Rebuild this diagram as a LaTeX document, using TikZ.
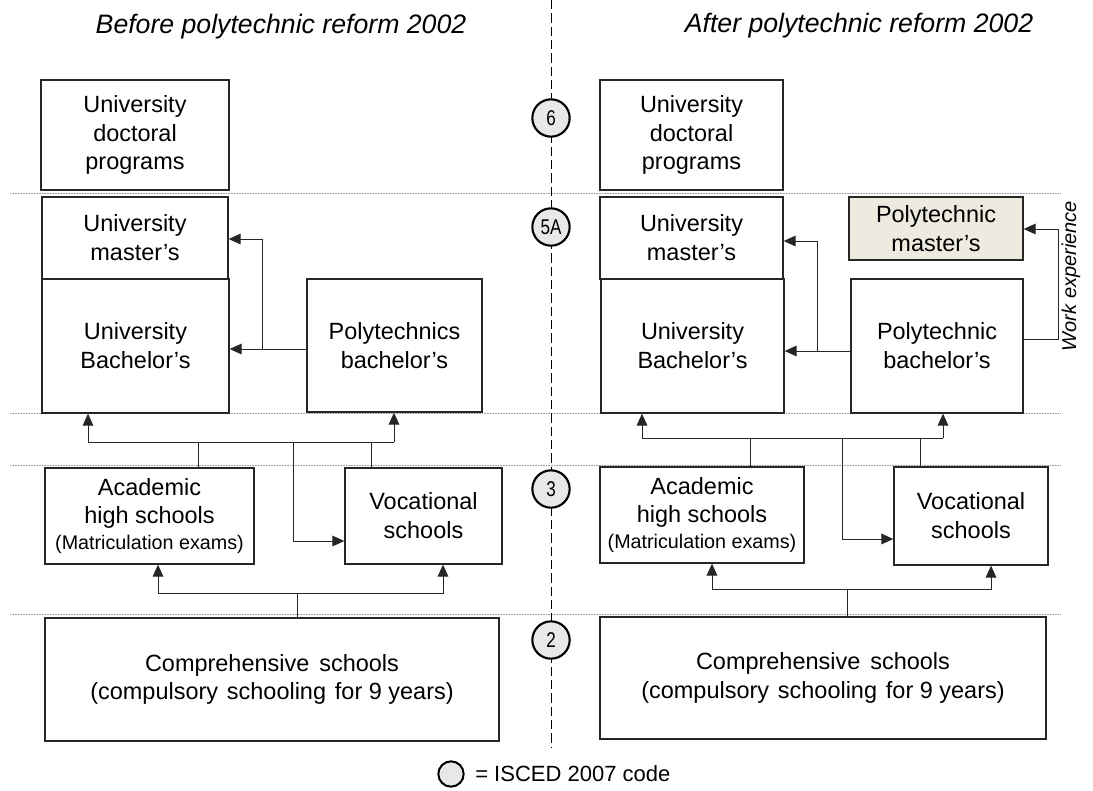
\documentclass[tikz,border=0pt]{standalone}
\usepackage{fontspec}
\setmainfont{Liberation Sans}
\usepackage{graphicx}
\usetikzlibrary{arrows.meta}
\definecolor{boxline}{HTML}{262626}
\definecolor{pmfill}{RGB}{237,234,224}
\definecolor{circfill}{RGB}{232,232,232}
\definecolor{dotgray}{RGB}{150,150,150}
\begin{document}
\begin{tikzpicture}[x=0.75pt,y=-0.75pt,
  box/.style={draw=boxline,fill=white,line width=1pt,align=center,inner sep=0pt,font=\fontsize{17.6}{21.6}\selectfont},
  conn/.style={draw=boxline,line width=0.75pt},
  arr/.style={conn,-{Triangle[length=9pt,width=8pt]}},
  isced/.style={circle,draw=black,line width=1.6pt,fill=circfill,minimum size=28pt,inner sep=0pt,font=\fontsize{16}{16}\selectfont},
  level/.style={dotgray,line width=0.6pt,dash pattern=on 0.6pt off 0.6pt},
  title/.style={font=\fontsize{20}{24}\selectfont\itshape,anchor=base,inner sep=0pt}]
\useasboundingbox (0,0) rectangle (1093,790);

% titles
\node[title] (tl) at (281,33) {Before polytechnic reform 2002};
\node[title] (tr) at (859,32) {After polytechnic reform 2002};

% level lines
\coordinate (d1a) at (10,193); \coordinate (d1b) at (1060,193);
\coordinate (d2a) at (10,413); \coordinate (d2b) at (1060,413);
\coordinate (d3a) at (10,465); \coordinate (d3b) at (1060,465);
\coordinate (d4a) at (10,614); \coordinate (d4b) at (1060,614);
\draw[level] (d1a) -- (d1b);
\draw[level] (d2a) -- (d2b);
\draw[level] (d3a) -- (d3b);
\draw[level] (d4a) -- (d4b);

% central dashed divider
\coordinate (dtop) at (551,0); \coordinate (dbot) at (551,747);
\draw[line width=0.75pt,dash pattern=on 7pt off 3pt] (dtop) -- (dbot);

% ISCED circles
\node[isced] (c6) at (551,118) {\scalebox{0.8}[1]{6}};
\node[isced] (c5) at (551,227) {\scalebox{0.8}[1]{5A}};
\node[isced] (c3) at (551,489) {\scalebox{0.8}[1]{3}};
\node[isced] (c2) at (551,640) {\scalebox{0.8}[1]{2}};

% ---------- left side ----------
\node[box,minimum width=141pt,minimum height=82.5pt] (ldoc) at (135,135) {University\\doctoral\\programs};
\node[box,minimum width=139.5pt,minimum height=61.5pt] (lmas) at (135,238) {University\\master’s};
\node[box,minimum width=140.25pt,minimum height=100.5pt] (lbach) at (135.5,346) {University\\Bachelor’s};
\node[box,minimum width=131.25pt,minimum height=99.75pt] (lpoly) at (394.5,345.5) {Polytechnics\\bachelor’s};
\node[box,minimum width=156.75pt,minimum height=72pt] (lacad) at (149.5,516) {Academic\\high schools\\[-2pt]{\fontsize{14.8}{17}\selectfont (Matriculation exams)}};
\node[box,minimum width=117.75pt,minimum height=72pt] (lvoc) at (423.5,516) {Vocational\\schools};
\node[box,minimum width=340.5pt,minimum height=92.25pt] (lcomp) at (272,679.5) {Comprehensive\hspace{0.15em} schools\\(compulsory\hspace{0.1em} schooling\hspace{0.1em} for 9 years)};

\coordinate (lj1) at (262,349);
\coordinate (lj2) at (262,239);
\draw[arr] (lpoly.west |- lj1) -- (lbach.east |- lj1);
\draw[arr] (lj1) -- (lj2) -- (lmas.east |- lj2);

\coordinate (la1) at (88,442);
\coordinate (la2) at (394,442);
\coordinate (la3) at (198,442);
\coordinate (la4) at (371,442);
\coordinate (la5) at (293,442);
\coordinate (la6) at (293,541);
\draw[arr] (la2) -- (la1) -- (la1 |- lbach.south);
\draw[arr] (la2) -- (la2 |- lpoly.south);
\draw[conn] (lacad.north -| la3) -- (la3);
\draw[conn] (lvoc.north -| la4) -- (la4);
\draw[arr] (la5) -- (la6) -- (la6 -| lvoc.west);

\coordinate (lb1) at (158,593);
\coordinate (lb2) at (443,593);
\coordinate (lb3) at (297,593);
\draw[arr] (lb3) -- (lb1) -- (lb1 |- lacad.south);
\draw[arr] (lb3) -- (lb2) -- (lb2 |- lvoc.south);
\draw[conn] (lcomp.north -| lb3) -- (lb3);

% ---------- right side ----------
\node[box,minimum width=137.25pt,minimum height=82.5pt] (rdoc) at (691.5,135) {University\\doctoral\\programs};
\node[box,minimum width=137.25pt,minimum height=61.5pt] (rmas) at (691.5,238) {University\\master’s};
\node[box,minimum width=137.25pt,minimum height=100.5pt] (rbach) at (692.5,346) {University\\Bachelor’s};
\node[box,fill=pmfill,minimum width=130.5pt,minimum height=47.25pt] (rpmas) at (936,228.5) {Polytechnic\\master’s};
\node[box,minimum width=129pt,minimum height=100.5pt] (rpoly) at (937,346) {Polytechnic\\bachelor’s};
\node[box,minimum width=153pt,minimum height=72pt] (racad) at (702,515) {Academic\\high schools\\[-2pt]{\fontsize{14.8}{17}\selectfont (Matriculation exams)}};
\node[box,minimum width=115.5pt,minimum height=73.5pt] (rvoc) at (971,516) {Vocational\\schools};
\node[box,minimum width=334.5pt,minimum height=91.5pt] (rcomp) at (823,678) {Comprehensive\hspace{0.15em} schools\\(compulsory\hspace{0.1em} schooling\hspace{0.1em} for 9 years)};

\coordinate (rj1) at (817,351);
\coordinate (rj2) at (817,241);
\draw[arr] (rpoly.west |- rj1) -- (rbach.east |- rj1);
\draw[arr] (rj1) -- (rj2) -- (rmas.east |- rj2);

\coordinate (w1) at (1058,339);
\coordinate (w2) at (1058,229);
\draw[arr] (rpoly.east |- w1) -- (w1) -- (w2) -- (rpmas.east |- w2);
\node[rotate=90,font=\fontsize{15}{15}\selectfont\itshape,inner sep=0pt] (wexp) at (1071,276) {Work experience};

\coordinate (ra1) at (642,438);
\coordinate (ra2) at (943,438);
\coordinate (ra3) at (750,438);
\coordinate (ra4) at (920,438);
\coordinate (ra5) at (842,438);
\coordinate (ra6) at (842,539);
\draw[arr] (ra2) -- (ra1) -- (ra1 |- rbach.south);
\draw[arr] (ra2) -- (ra2 |- rpoly.south);
\draw[conn] (racad.north -| ra3) -- (ra3);
\draw[conn] (rvoc.north -| ra4) -- (ra4);
\draw[arr] (ra5) -- (ra6) -- (ra6 -| rvoc.west);

\coordinate (rb1) at (712,589);
\coordinate (rb2) at (991,589);
\coordinate (rb3) at (847,589);
\draw[arr] (rb3) -- (rb1) -- (rb1 |- racad.south);
\draw[arr] (rb3) -- (rb2) -- (rb2 |- rvoc.south);
\draw[conn] (rcomp.north -| rb3) -- (rb3);

% legend
\node[isced,minimum size=19pt,line width=1.5pt] (leg) at (451,774) {};
\node[anchor=west,font=\fontsize{16.5}{18}\selectfont,inner sep=0pt] (legt) at (475,774) {= ISCED 2007 code};
\end{tikzpicture}
\end{document}
